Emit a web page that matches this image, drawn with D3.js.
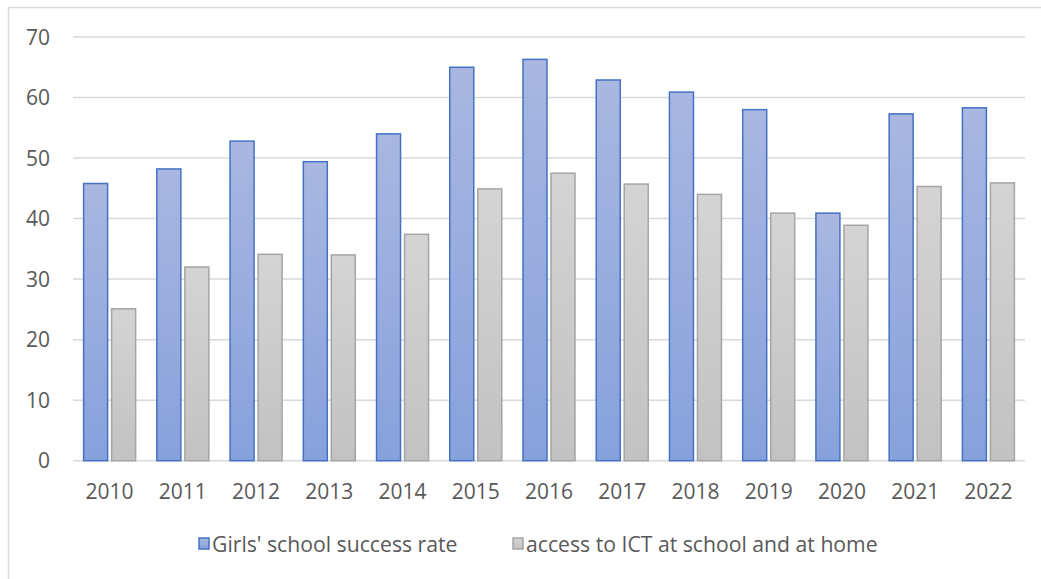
<!DOCTYPE html>
<html>
<head>
<meta charset="utf-8">
<script src="https://cdn.jsdelivr.net/npm/d3@7"></script>
<style>
  html, body { margin: 0; padding: 0; background: #fff; }
  svg { display: block; font-family: "Open Sans", sans-serif; }
</style>
</head>
<body>
<svg id="chart" width="1041" height="579"></svg>
<script>
// Yearly figures for the two series
const years = ["2010","2011","2012","2013","2014","2015","2016","2017","2018","2019","2020","2021","2022"];
const successRate = [45.8, 48.2, 52.8, 49.4, 54.0, 65.0, 66.3, 62.9, 60.9, 58.0, 40.9, 57.3, 58.3];
const ictAccess   = [25.1, 32.0, 34.1, 34.0, 37.4, 44.9, 47.5, 45.7, 44.0, 40.9, 38.9, 45.3, 45.9];
const yTicks = [0, 10, 20, 30, 40, 50, 60, 70];
const seriesNames = ["Girls' school success rate", "access to ICT at school and at home"];

const svg = d3.select("#chart");
const textColor = "#595959";
const gridColor = "#d9d9d9";

// Outer chart frame (runs off the right and bottom edges)
svg.append("rect")
  .attr("x", 8.5).attr("y", 7.5)
  .attr("width", 1060).attr("height", 600)
  .attr("fill", "none").attr("stroke", gridColor).attr("stroke-width", 1.5);

// Bar gradients
const defs = svg.append("defs");
function grad(id, top, bottom) {
  const g = defs.append("linearGradient").attr("id", id)
    .attr("x1", 0).attr("y1", 0).attr("x2", 0).attr("y2", 1);
  g.append("stop").attr("offset", "0%").attr("stop-color", top);
  g.append("stop").attr("offset", "100%").attr("stop-color", bottom);
}
grad("gBlue", "#a9b7e1", "#87a1dc");
grad("gGray", "#d4d4d4", "#c2c2c2");

const x0 = 73, x1 = 1025, yTop = 37, yBottom = 460.7;

const x = d3.scaleBand().domain(years).range([x0, x1]).paddingInner(0).paddingOuter(0);
const y = d3.scaleLinear().domain([0, 70]).range([yBottom, yTop]);

// Gridlines
svg.append("g").selectAll("line").data(yTicks).join("line")
  .attr("x1", x0).attr("x2", x1)
  .attr("y1", d => y(d)).attr("y2", d => y(d))
  .attr("stroke", gridColor).attr("stroke-width", 1.5);

// Y axis labels
svg.append("g").selectAll("text").data(yTicks).join("text")
  .attr("x", 50).attr("y", d => y(d))
  .attr("dy", "0.36em")
  .attr("text-anchor", "end")
  .attr("fill", textColor).attr("font-size", 21)
  .text(d => d);

// X axis labels
svg.append("g").selectAll("text").data(years).join("text")
  .attr("x", d => x(d) + x.bandwidth() / 2).attr("y", 499)
  .attr("text-anchor", "middle")
  .attr("fill", textColor).attr("font-size", 21)
  .text(d => d);

// Bars: two per year, side by side around the band centre
const barW = 24, gap = 4;
const inner = d3.scaleBand().domain([0, 1])
  .range([-(barW + gap / 2), barW + gap / 2]).paddingInner(gap / (barW + gap)).paddingOuter(0);

const series = [
  { values: successRate, fill: "url(#gBlue)", stroke: "#4472c4" },
  { values: ictAccess,   fill: "url(#gGray)", stroke: "#a5a5a5" }
];

series.forEach((s, i) => {
  svg.append("g").selectAll("rect").data(years).join("rect")
    .attr("x", (d) => x(d) + x.bandwidth() / 2 + inner(i))
    .attr("y", (d, j) => y(s.values[j]))
    .attr("width", inner.bandwidth())
    .attr("height", (d, j) => y(0) - y(s.values[j]))
    .attr("fill", s.fill)
    .attr("stroke", s.stroke).attr("stroke-width", 1.5);
});

// Legend
const legend = [
  { name: seriesNames[0], x: 199, fill: "url(#gBlue)", stroke: "#4472c4" },
  { name: seriesNames[1], x: 513, fill: "url(#gGray)", stroke: "#a5a5a5" }
];
const lg = svg.append("g").selectAll("g").data(legend).join("g")
  .attr("transform", d => `translate(${d.x},0)`);
lg.append("rect")
  .attr("x", 0).attr("y", 538).attr("width", 10).attr("height", 11)
  .attr("fill", d => d.fill).attr("stroke", d => d.stroke).attr("stroke-width", 1.5);
lg.append("text")
  .attr("x", 13).attr("y", 552)
  .attr("fill", textColor).attr("font-size", 21.2)
  .text(d => d.name);
</script>
</body>
</html>
